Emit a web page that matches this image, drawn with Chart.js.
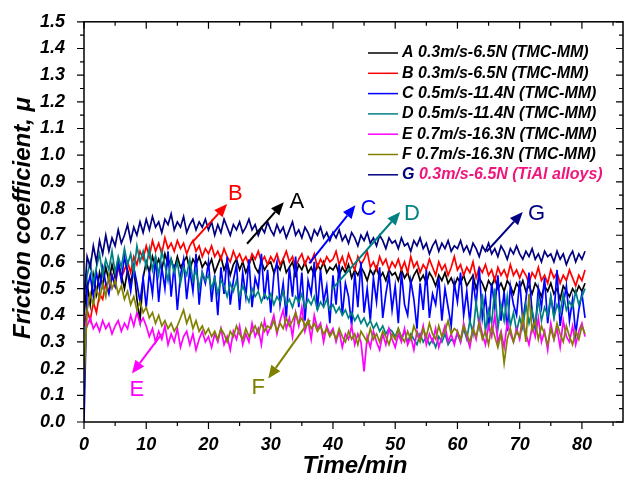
<!DOCTYPE html>
<html>
<head>
<meta charset="utf-8">
<script src="https://cdn.jsdelivr.net/npm/chart.js@4.4.1/dist/chart.umd.min.js"></script>
<style>
  html, body { margin: 0; padding: 0; background: #fff; }
</style>
</head>
<body>
<canvas id="frictionChart" width="625" height="483"></canvas>
<script>
// friction coefficient sampled every 0.5 min, 0 .. 80.5 min
const timeStep = 0.5;

const seriesA = [
  0.40, 0.52, 0.44, 0.55, 0.48, 0.56, 0.51, 0.58, 0.53, 0.59, 0.54, 0.60, 0.55, 0.50, 0.57, 0.52, 0.58, 0.46, 0.38, 0.54,
  0.60, 0.56, 0.62, 0.58, 0.61, 0.57, 0.63, 0.59, 0.61, 0.57, 0.62, 0.58, 0.60, 0.62, 0.57, 0.61, 0.59, 0.62, 0.58, 0.60,
  0.58, 0.61, 0.56, 0.59, 0.62, 0.57, 0.60, 0.55, 0.59, 0.61, 0.57, 0.60, 0.56, 0.59, 0.62, 0.58, 0.56, 0.60, 0.57, 0.59,
  0.60, 0.56, 0.59, 0.57, 0.61, 0.56, 0.58, 0.60, 0.55, 0.59, 0.57, 0.60, 0.56, 0.58, 0.55, 0.59, 0.57, 0.60, 0.56, 0.58,
  0.57, 0.59, 0.55, 0.58, 0.56, 0.59, 0.54, 0.57, 0.55, 0.58, 0.56, 0.53, 0.57, 0.55, 0.58, 0.54, 0.56, 0.53, 0.57, 0.55,
  0.56, 0.53, 0.57, 0.54, 0.56, 0.52, 0.55, 0.57, 0.53, 0.55, 0.52, 0.56, 0.54, 0.51, 0.55, 0.53, 0.56, 0.52, 0.54, 0.51,
  0.54, 0.52, 0.55, 0.51, 0.53, 0.55, 0.50, 0.54, 0.52, 0.49, 0.53, 0.51, 0.54, 0.50, 0.52, 0.49, 0.53, 0.51, 0.48, 0.52,
  0.50, 0.53, 0.49, 0.51, 0.48, 0.52, 0.50, 0.47, 0.51, 0.49, 0.52, 0.48, 0.50, 0.46, 0.51, 0.49, 0.47, 0.50, 0.48, 0.51,
  0.49, 0.52
];

const seriesB = [
  0.36, 0.42, 0.38, 0.45, 0.41, 0.48, 0.46, 0.52, 0.49, 0.55, 0.51, 0.58, 0.54, 0.57, 0.60, 0.56, 0.62, 0.59, 0.64, 0.61,
  0.66, 0.62, 0.68, 0.64, 0.67, 0.63, 0.69, 0.65, 0.67, 0.64, 0.68, 0.65, 0.67, 0.63, 0.66, 0.68, 0.64, 0.66, 0.62, 0.65,
  0.63, 0.66, 0.62, 0.64, 0.61, 0.65, 0.62, 0.60, 0.64, 0.61, 0.63, 0.60, 0.62, 0.59, 0.63, 0.61, 0.64, 0.60, 0.62, 0.59,
  0.62, 0.60, 0.63, 0.59, 0.61, 0.64, 0.60, 0.62, 0.58, 0.61, 0.63, 0.59, 0.62, 0.60, 0.63, 0.58, 0.61, 0.59, 0.62, 0.60,
  0.61, 0.64, 0.59, 0.62, 0.58, 0.63, 0.60, 0.57, 0.62, 0.59, 0.61, 0.64, 0.58, 0.60, 0.57, 0.62, 0.59, 0.61, 0.57, 0.60,
  0.58, 0.61, 0.57, 0.60, 0.56, 0.62, 0.58, 0.60, 0.56, 0.59, 0.57, 0.61, 0.58, 0.55, 0.60, 0.57, 0.59, 0.55, 0.58, 0.62,
  0.57, 0.59, 0.55, 0.58, 0.56, 0.60, 0.54, 0.58, 0.56, 0.59, 0.55, 0.57, 0.53, 0.58, 0.55, 0.57, 0.54, 0.59, 0.55, 0.57,
  0.54, 0.57, 0.55, 0.52, 0.56, 0.54, 0.58, 0.53, 0.55, 0.52, 0.57, 0.54, 0.56, 0.52, 0.55, 0.53, 0.57, 0.54, 0.51, 0.55,
  0.53, 0.57
];

const seriesC = [
  0.00, 0.50, 0.55, 0.47, 0.56, 0.50, 0.58, 0.52, 0.48, 0.55, 0.51, 0.60, 0.53, 0.62, 0.56, 0.49, 0.58, 0.52, 0.45, 0.54,
  0.43, 0.56, 0.48, 0.62, 0.45, 0.58, 0.50, 0.64, 0.47, 0.59, 0.42, 0.55, 0.61, 0.46, 0.57, 0.49, 0.63, 0.44, 0.56, 0.52,
  0.60, 0.45, 0.55, 0.40, 0.58, 0.48, 0.62, 0.44, 0.53, 0.59, 0.42, 0.56, 0.47, 0.61, 0.43, 0.54, 0.50, 0.63, 0.46, 0.57,
  0.41, 0.55, 0.60, 0.44, 0.52, 0.39, 0.58, 0.47, 0.62, 0.43, 0.56, 0.38, 0.53, 0.48, 0.60, 0.42, 0.57, 0.45, 0.51, 0.37,
  0.55, 0.44, 0.59, 0.40, 0.52, 0.47, 0.36, 0.56, 0.43, 0.60, 0.41, 0.50, 0.38, 0.54, 0.45, 0.58, 0.39, 0.48, 0.55, 0.42,
  0.51, 0.37, 0.56, 0.44, 0.40, 0.53, 0.46, 0.35, 0.52, 0.42, 0.57, 0.39, 0.48, 0.44, 0.54, 0.38, 0.50, 0.43, 0.36, 0.52,
  0.45, 0.56, 0.40, 0.49, 0.37, 0.53, 0.44, 0.58, 0.39, 0.47, 0.35, 0.52, 0.43, 0.55, 0.38, 0.49, 0.34, 0.51, 0.44, 0.40,
  0.53, 0.38, 0.46, 0.56, 0.41, 0.35, 0.50, 0.43, 0.54, 0.37, 0.47, 0.40, 0.57, 0.36, 0.44, 0.51, 0.38, 0.46, 0.33, 0.42,
  0.48, 0.39
];

const seriesD = [
  0.48, 0.55, 0.60, 0.52, 0.58, 0.63, 0.55, 0.61, 0.57, 0.64, 0.56, 0.62, 0.58, 0.65, 0.59, 0.63, 0.56, 0.66, 0.60, 0.64,
  0.58, 0.65, 0.57, 0.62, 0.55, 0.64, 0.59, 0.53, 0.61, 0.56, 0.60, 0.52, 0.58, 0.55, 0.61, 0.53, 0.57, 0.50, 0.56, 0.53,
  0.55, 0.50, 0.54, 0.48, 0.53, 0.51, 0.47, 0.52, 0.49, 0.53, 0.47, 0.51, 0.48, 0.45, 0.50, 0.47, 0.49, 0.45, 0.48, 0.46,
  0.48, 0.44, 0.47, 0.45, 0.49, 0.44, 0.46, 0.43, 0.47, 0.45, 0.48, 0.43, 0.46, 0.44, 0.47, 0.42, 0.45, 0.43, 0.46, 0.42,
  0.44, 0.41, 0.43, 0.40, 0.42, 0.39, 0.41, 0.38, 0.40, 0.37, 0.39, 0.36, 0.38, 0.35, 0.37, 0.34, 0.36, 0.33, 0.35, 0.34,
  0.32, 0.35, 0.31, 0.34, 0.30, 0.33, 0.31, 0.29, 0.33, 0.30, 0.32, 0.29, 0.31, 0.28, 0.32, 0.30, 0.33, 0.29, 0.31, 0.30,
  0.33, 0.30, 0.35, 0.31, 0.38, 0.33, 0.45, 0.36, 0.48, 0.34, 0.42, 0.37, 0.50, 0.35, 0.44, 0.38, 0.47, 0.36, 0.41, 0.34,
  0.39, 0.35, 0.44, 0.37, 0.42, 0.36, 0.46, 0.38, 0.43, 0.40, 0.47, 0.39, 0.44, 0.41, 0.48, 0.42, 0.45, 0.43, 0.49, 0.44,
  0.47, 0.50
];

const seriesE = [
  0.38, 0.36, 0.39, 0.35, 0.37, 0.34, 0.38, 0.35, 0.37, 0.33, 0.36, 0.38, 0.34, 0.37, 0.35, 0.40, 0.36, 0.41, 0.37, 0.39,
  0.36, 0.32, 0.35, 0.30, 0.34, 0.31, 0.36, 0.29, 0.33, 0.30, 0.35, 0.28, 0.32, 0.34, 0.29, 0.33, 0.27, 0.31, 0.34, 0.30,
  0.32, 0.28, 0.33, 0.30, 0.35, 0.29, 0.32, 0.27, 0.34, 0.31, 0.36, 0.29, 0.33, 0.30, 0.37, 0.32, 0.35, 0.29, 0.38, 0.33,
  0.36, 0.40, 0.33, 0.38, 0.42, 0.35, 0.39, 0.32, 0.41, 0.36, 0.43, 0.34, 0.38, 0.31, 0.40, 0.35, 0.37, 0.30, 0.36, 0.33,
  0.35, 0.30, 0.34, 0.28, 0.33, 0.31, 0.36, 0.29, 0.33, 0.30, 0.19, 0.32, 0.28, 0.34, 0.30, 0.27, 0.33, 0.29, 0.35, 0.31,
  0.28, 0.33, 0.30, 0.35, 0.29, 0.32, 0.27, 0.34, 0.31, 0.36, 0.29, 0.33, 0.30, 0.35, 0.28, 0.32, 0.36, 0.30, 0.33, 0.29,
  0.34, 0.30, 0.37, 0.32, 0.28, 0.35, 0.31, 0.38, 0.33, 0.29, 0.36, 0.32, 0.40, 0.30, 0.34, 0.28, 0.37, 0.33, 0.30, 0.35,
  0.31, 0.38, 0.33, 0.29, 0.36, 0.32, 0.39, 0.30, 0.34, 0.27, 0.37, 0.31, 0.35, 0.28, 0.38, 0.32, 0.30, 0.36, 0.29, 0.34,
  0.37, 0.32
];

const seriesF = [
  0.15, 0.42, 0.48, 0.44, 0.50, 0.46, 0.52, 0.47, 0.55, 0.50, 0.53, 0.48, 0.51, 0.46, 0.49, 0.44, 0.47, 0.42, 0.45, 0.41,
  0.43, 0.39, 0.41, 0.37, 0.40, 0.36, 0.38, 0.35, 0.37, 0.34, 0.36, 0.39, 0.42, 0.37, 0.40, 0.35, 0.38, 0.34, 0.36, 0.33,
  0.35, 0.32, 0.34, 0.31, 0.35, 0.33, 0.30, 0.34, 0.32, 0.36, 0.33, 0.31, 0.35, 0.32, 0.34, 0.36, 0.33, 0.37, 0.34, 0.36,
  0.35, 0.38, 0.34, 0.37, 0.35, 0.39, 0.36, 0.38, 0.41, 0.37, 0.39, 0.36, 0.38, 0.35, 0.37, 0.34, 0.36, 0.33, 0.35, 0.32,
  0.34, 0.31, 0.35, 0.32, 0.30, 0.34, 0.31, 0.33, 0.29, 0.34, 0.32, 0.30, 0.35, 0.31, 0.33, 0.30, 0.34, 0.32, 0.29, 0.33,
  0.31, 0.35, 0.32, 0.30, 0.34, 0.31, 0.36, 0.33, 0.30, 0.35, 0.32, 0.37, 0.33, 0.31, 0.36, 0.32, 0.34, 0.38, 0.33, 0.35,
  0.34, 0.31, 0.36, 0.33, 0.30, 0.35, 0.32, 0.37, 0.31, 0.34, 0.29, 0.36, 0.32, 0.28, 0.33, 0.22, 0.31, 0.35, 0.30, 0.34,
  0.32, 0.40, 0.30, 0.48, 0.34, 0.38, 0.31, 0.36, 0.33, 0.29, 0.35, 0.31, 0.37, 0.33, 0.30, 0.36, 0.32, 0.29, 0.34, 0.31,
  0.36, 0.33
];

const seriesG = [
  0.45, 0.62, 0.58, 0.66, 0.60, 0.68, 0.63, 0.70, 0.64, 0.69, 0.66, 0.72, 0.67, 0.70, 0.74, 0.68, 0.73, 0.70, 0.75, 0.71,
  0.76, 0.72, 0.77, 0.73, 0.75, 0.71, 0.76, 0.74, 0.78, 0.72, 0.75, 0.73, 0.77, 0.71, 0.74, 0.76, 0.72, 0.75, 0.73, 0.76,
  0.72, 0.75, 0.70, 0.74, 0.71, 0.76, 0.73, 0.70, 0.74, 0.72, 0.75, 0.71, 0.73, 0.76, 0.72, 0.74, 0.70, 0.73, 0.71, 0.75,
  0.72, 0.70, 0.74, 0.71, 0.73, 0.69, 0.72, 0.75, 0.70, 0.72, 0.69, 0.73, 0.71, 0.68, 0.72, 0.70, 0.73, 0.69, 0.71, 0.68,
  0.71, 0.69, 0.72, 0.68, 0.70, 0.67, 0.71, 0.69, 0.66, 0.70, 0.68, 0.71, 0.67, 0.69, 0.66, 0.70, 0.68, 0.65, 0.69, 0.67,
  0.68, 0.65, 0.69, 0.66, 0.67, 0.64, 0.68, 0.66, 0.69, 0.65, 0.67, 0.63, 0.66, 0.68, 0.64, 0.67, 0.65, 0.68, 0.64, 0.66,
  0.65, 0.68, 0.64, 0.66, 0.63, 0.67, 0.65, 0.62, 0.66, 0.64, 0.67, 0.63, 0.65, 0.62, 0.66, 0.64, 0.61, 0.65, 0.63, 0.66,
  0.63, 0.61, 0.64, 0.62, 0.65, 0.61, 0.63, 0.60, 0.64, 0.62, 0.63, 0.60, 0.64, 0.61, 0.63, 0.59, 0.62, 0.64, 0.60, 0.63,
  0.61, 0.64
];

const seriesLetters = ['A', 'B', 'C', 'D', 'E', 'F', 'G'];
const seriesLabels = [
  '0.3m/s-6.5N (TMC-MM)',
  '0.3m/s-6.5N (TMC-MM)',
  '0.5m/s-11.4N (TMC-MM)',
  '0.5m/s-11.4N (TMC-MM)',
  '0.7m/s-16.3N (TMC-MM)',
  '0.7m/s-16.3N (TMC-MM)',
  '0.3m/s-6.5N (TiAl alloys)'
];
const seriesColors = ['#000000', '#ff0000', '#0000ff', '#008080', '#ff00ff', '#808000', '#000080'];
const allSeries = [seriesA, seriesB, seriesC, seriesD, seriesE, seriesF, seriesG];

const yTicks = [0, 0.1, 0.2, 0.3, 0.4, 0.5, 0.6, 0.7, 0.8, 0.9, 1.0, 1.1, 1.2, 1.3, 1.4, 1.5];
const xTicks = [0, 10, 20, 30, 40, 50, 60, 70, 80];

// callout arrows: [tail time, tail mu, head time, head mu, letter time, letter mu]
const callouts = [
  [26.2, 0.668, 32.1, 0.824, 34.2, 0.824],
  [17.5, 0.676, 23.0, 0.817, 24.3, 0.855],
  [36.2, 0.595, 43.6, 0.812, 45.7, 0.799],
  [39.8, 0.496, 50.8, 0.787, 52.7, 0.781],
  [12.5, 0.330, 7.7, 0.182, 8.5, 0.119],
  [36.3, 0.382, 29.6, 0.163, 28.0, 0.126],
  [64.7, 0.639, 70.5, 0.787, 72.7, 0.781]
];

const FONT = "'Liberation Sans', Arial, sans-serif";

function toPoints(series) {
  return series.map((v, i) => ({ x: i * timeStep, y: v }));
}

function drawArrow(ctx, x1, y1, x2, y2, color) {
  const ang = Math.atan2(y2 - y1, x2 - x1);
  const head = 13, half = 5.5;
  const bx = x2 - head * Math.cos(ang), by = y2 - head * Math.sin(ang);
  ctx.strokeStyle = color;
  ctx.lineWidth = 2;
  ctx.beginPath();
  ctx.moveTo(x1, y1);
  ctx.lineTo(bx, by);
  ctx.stroke();
  ctx.fillStyle = color;
  ctx.beginPath();
  ctx.moveTo(x2, y2);
  ctx.lineTo(bx + half * Math.sin(ang), by - half * Math.cos(ang));
  ctx.lineTo(bx - half * Math.sin(ang), by + half * Math.cos(ang));
  ctx.closePath();
  ctx.fill();
}

// box, ticks on all four sides, axis titles, legend and lettered arrows
const decorations = {
  id: 'decorations',
  afterDatasetsDraw(chart) {
    const { ctx, chartArea: a, scales: { x, y } } = chart;
    ctx.save();
    ctx.strokeStyle = '#000';
    ctx.lineWidth = 1.5;
    ctx.strokeRect(a.left, a.top, a.right - a.left, a.bottom - a.top);

    ctx.lineWidth = 1.2;
    ctx.beginPath();
    for (let t = 0; t <= 86; t += 5) {
      const px = x.getPixelForValue(t);
      const len = t % 10 === 0 ? 7 : 4;
      ctx.moveTo(px, a.bottom); ctx.lineTo(px, a.bottom + len);
      ctx.moveTo(px, a.top); ctx.lineTo(px, a.top + len);
    }
    for (let k = 0; k <= 30; k++) {
      const py = y.getPixelForValue(k * 0.05);
      const len = k % 2 === 0 ? 7 : 4;
      ctx.moveTo(a.left, py); ctx.lineTo(a.left - len, py);
      ctx.moveTo(a.right, py); ctx.lineTo(a.right - len, py);
    }
    ctx.stroke();

    // axis titles
    ctx.fillStyle = '#000';
    ctx.font = `italic bold 24px ${FONT}`;
    ctx.textAlign = 'center';
    ctx.textBaseline = 'middle';
    ctx.fillText('Time/min', 355, 466);
    ctx.save();
    ctx.translate(23, 218);
    ctx.rotate(-Math.PI / 2);
    ctx.fillText('Friction coefficient, \u03bc', 0, 0);
    ctx.restore();

    // legend
    ctx.font = `italic bold 16px ${FONT}`;
    ctx.textAlign = 'left';
    seriesLetters.forEach((letter, i) => {
      const ry = 53 + i * 20.3;
      ctx.strokeStyle = seriesColors[i];
      ctx.lineWidth = 1.5;
      ctx.beginPath();
      ctx.moveTo(368, ry); ctx.lineTo(398, ry);
      ctx.stroke();
      if (letter === 'G') {
        ctx.fillStyle = seriesColors[i];
        ctx.fillText(letter, 402, ry);
        const w = ctx.measureText(letter + ' ').width;
        ctx.fillStyle = '#f0157c';
        ctx.fillText(seriesLabels[i], 402 + w, ry);
      } else {
        ctx.fillStyle = '#000';
        ctx.fillText(letter + ' ' + seriesLabels[i], 402, ry);
      }
    });

    // lettered arrows
    ctx.font = `22px ${FONT}`;
    ctx.textAlign = 'center';
    callouts.forEach((c, i) => {
      drawArrow(ctx, x.getPixelForValue(c[0]), y.getPixelForValue(c[1]),
        x.getPixelForValue(c[2]), y.getPixelForValue(c[3]), seriesColors[i]);
      ctx.fillStyle = seriesColors[i];
      ctx.fillText(seriesLetters[i], x.getPixelForValue(c[4]), y.getPixelForValue(c[5]));
    });
    ctx.restore();
  }
};

const tickFont = { family: FONT, size: 18, weight: 'bold', style: 'italic' };

new Chart(document.getElementById('frictionChart'), {
  type: 'line',
  data: {
    datasets: allSeries.map((s, i) => ({
      label: seriesLetters[i] + ' ' + seriesLabels[i],
      data: toPoints(s),
      borderColor: seriesColors[i],
      borderWidth: 1.7,
      pointRadius: 0,
      tension: 0,
      order: allSeries.length - i
    }))
  },
  options: {
    responsive: false,
    animation: false,
    layout: { padding: { top: 18, right: 2, left: 0, bottom: 0 } },
    plugins: { legend: { display: false }, tooltip: { enabled: false } },
    scales: {
      x: {
        type: 'linear',
        min: 0,
        max: 86.6,
        grid: { display: false },
        border: { display: false },
        ticks: { color: '#000', font: tickFont, padding: 4, maxRotation: 0, stepSize: 10 },
        afterBuildTicks: s => { s.ticks = xTicks.map(v => ({ value: v })); },
        afterFit: s => { s.height = 61; }
      },
      y: {
        min: 0,
        max: 1.5,
        grid: { display: false },
        border: { display: false },
        ticks: { color: '#000', font: tickFont, padding: 11, callback: v => v.toFixed(1) },
        afterBuildTicks: s => { s.ticks = yTicks.map(v => ({ value: v })); },
        afterFit: s => { s.width = 84; }
      }
    }
  },
  plugins: [decorations]
});
</script>
</body>
</html>
